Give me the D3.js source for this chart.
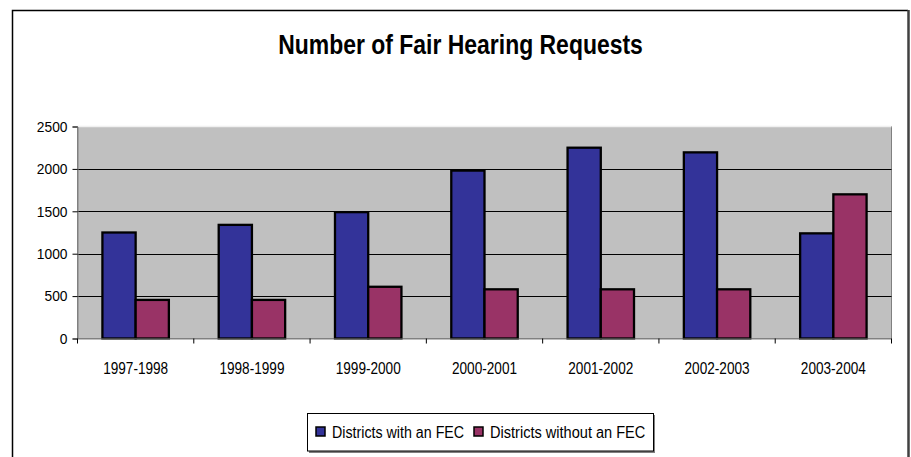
<!DOCTYPE html>
<head>
  <meta charset="utf-8">
  <script src="https://d3js.org/d3.v7.min.js"></script>
  <style>
    body { margin: 0; background: #fff; }
    svg { width: 911px; height: 457px; display: block; }
    text { font-family: "Liberation Sans", Arial, sans-serif; fill: #000; }
  </style>
</head>

<body>
  <svg></svg>

  <script>
    // data
    const years = ['1997-1998', '1998-1999', '1999-2000', '2000-2001', '2001-2002', '2002-2003', '2003-2004'];
    const withFEC = [1250, 1340, 1490, 1980, 2250, 2195, 1240];
    const withoutFEC = [455, 455, 610, 580, 580, 580, 1700];
    const seriesNames = ['Districts with an FEC', 'Districts without an FEC'];
    const seriesColors = ['#333399', '#993366'];
    const yTicks = [0, 500, 1000, 1500, 2000, 2500];

    const svg = d3.select('svg');

    // squeeze text horizontally, the old chart font is narrow
    function narrow(sel, k) {
      sel.each(function() {
        const w = this.getComputedTextLength();
        d3.select(this).attr('textLength', w * k).attr('lengthAdjust', 'spacingAndGlyphs');
      });
    }

    // outer frame
    svg.append('path')
      .attr('d', 'M12.5,460 L12.5,10.5 L908,10.5')
      .attr('fill', 'none').attr('stroke', '#000').attr('stroke-width', 1.5);
    svg.append('line')
      .attr('x1', 908.5).attr('x2', 908.5).attr('y1', 10).attr('y2', 460)
      .attr('stroke', '#404040').attr('stroke-width', 2.5);

    // title
    svg.append('text')
      .attr('x', 460.5).attr('y', 54)
      .attr('text-anchor', 'middle')
      .style('font-size', '27px').style('font-weight', 'bold')
      .text('Number of Fair Hearing Requests')
      .call(narrow, 0.85);

    const plot = { left: 77.5, right: 891.5, top: 126.5, bottom: 338.5 };

    const x = d3.scaleBand().domain(years).range([plot.left, plot.right]);
    const y = d3.scaleLinear().domain([0, 2500]).range([plot.bottom, plot.top]);

    // Excel gap width 150% -> bar = band / 3.5
    const barW = x.bandwidth() / 3.5;

    // plot background
    svg.append('rect')
      .attr('x', plot.left).attr('y', plot.top)
      .attr('width', plot.right - plot.left).attr('height', plot.bottom - plot.top)
      .attr('fill', '#c0c0c0').attr('stroke', '#808080').attr('stroke-width', 1);

    // gridlines
    svg.append('g')
      .selectAll('line')
      .data(yTicks.filter(d => d > 0 && d < 2500))
      .join('line')
      .attr('x1', plot.left).attr('x2', plot.right)
      .attr('y1', d => Math.round(y(d)) + 0.5).attr('y2', d => Math.round(y(d)) + 0.5)
      .attr('stroke', '#000').attr('stroke-width', 1);
    svg.append('line')
      .attr('x1', plot.left).attr('x2', plot.right)
      .attr('y1', plot.top).attr('y2', plot.top)
      .attr('stroke', '#f0f0f0').attr('stroke-width', 1.5);

    // bars
    const series = [withFEC, withoutFEC];
    series.forEach((vals, si) => {
      svg.append('g')
        .selectAll('rect')
        .data(vals)
        .join('rect')
        .attr('x', (d, i) => x(years[i]) + barW * 0.75 + si * barW)
        .attr('y', d => y(d))
        .attr('width', barW)
        .attr('height', d => plot.bottom - y(d))
        .attr('fill', seriesColors[si])
        .attr('stroke', '#000').attr('stroke-width', 2.3);
    });

    // y axis
    const yAxis = svg.append('g')
      .attr('transform', `translate(${plot.left},0)`)
      .call(d3.axisLeft(y).tickValues(yTicks).tickSize(5).tickPadding(5).tickFormat(d3.format('d')));
    yAxis.select('.domain').attr('stroke', '#808080');
    yAxis.selectAll('.tick line').attr('stroke', '#000');
    yAxis.selectAll('text').style('font-size', '15px').attr('font-family', null).call(narrow, 0.92);

    // x axis
    const xAxis = svg.append('g')
      .attr('transform', `translate(0,${plot.bottom})`)
      .call(d3.axisBottom(x).tickSize(0).tickPadding(0));
    xAxis.select('.domain').attr('stroke', '#808080');
    xAxis.selectAll('.tick text').attr('y', 35.5).attr('dy', null)
      .style('font-size', '16px').attr('font-family', null).call(narrow, 0.85);
    // tick marks sit between categories
    svg.append('g')
      .selectAll('line')
      .data(years.concat(['end']))
      .join('line')
      .attr('x1', (d, i) => plot.left + i * x.step())
      .attr('x2', (d, i) => plot.left + i * x.step())
      .attr('y1', plot.bottom).attr('y2', plot.bottom + 5)
      .attr('stroke', '#000');

    // legend
    const lg = svg.append('g');
    lg.append('rect')
      .attr('x', 309).attr('y', 415).attr('width', 346).attr('height', 38)
      .attr('fill', '#808080');
    lg.append('rect')
      .attr('x', 307.5).attr('y', 413.5).attr('width', 346).attr('height', 37.5)
      .attr('fill', '#fff').attr('stroke', '#000').attr('stroke-width', 1);
    const legendX = [316, 474];
    seriesNames.forEach((name, i) => {
      lg.append('rect')
        .attr('x', legendX[i]).attr('y', 427).attr('width', 9).attr('height', 9)
        .attr('fill', seriesColors[i]).attr('stroke', '#000').attr('stroke-width', 1.5);
      lg.append('text')
        .attr('x', legendX[i] + 16).attr('y', 438)
        .style('font-size', '16px')
        .text(name)
        .call(narrow, i === 0 ? 0.89 : 0.91);
    });
  </script>
</body>
